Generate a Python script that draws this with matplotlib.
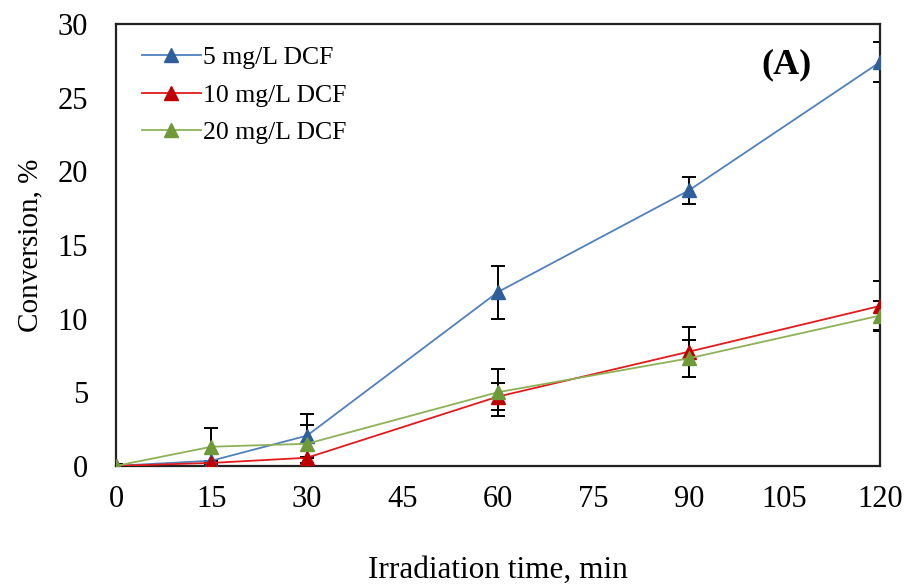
import matplotlib
matplotlib.use("Agg")
import matplotlib.pyplot as plt

plt.rcParams['font.family'] = ['Liberation Serif', 'DejaVu Serif']

time = [0, 15, 30, 60, 90, 120]
labels = ["5 mg/L DCF", "10 mg/L DCF", "20 mg/L DCF"]
conv_5 = [0.0, 0.35, 2.05, 11.8, 18.7, 27.4]
err_5 = [0.15, 0.0, 1.45, 1.8, 0.9, 1.35]
conv_10 = [0.0, 0.2, 0.55, 4.7, 7.75, 10.85]
err_10 = [0.1, 0.0, 0.0, 0.9, 1.7, 1.7]
conv_20 = [0.0, 1.3, 1.5, 5.0, 7.3, 10.2]
err_20 = [0.1, 1.25, 1.3, 1.6, 1.25, 1.0]

line_colors = ["#4F81BD", "#E31A1C", "#8DB255"]
marker_colors = ["#2F5F9A", "#C00000", "#6E9A3A"]

fig = plt.figure(figsize=(9.06, 5.86), dpi=100)
ax = fig.add_axes([0.128, 0.205, 0.843, 0.754])

series = [(conv_5, err_5), (conv_10, err_10), (conv_20, err_20)]
for (y, e), lab, lc, mc in zip(series, labels, line_colors, marker_colors):
    ax.errorbar(time, y, yerr=e, fmt='none', ecolor='black', elinewidth=1.4,
                capsize=5, capthick=1.4, zorder=2)
for (y, e), lab, lc, mc in zip(series, labels, line_colors, marker_colors):
    ax.plot(time, y, color=lc, lw=1.3, marker='^', markersize=10,
            markerfacecolor=mc, markeredgecolor=mc, label=lab, zorder=3)

ax.set_xlim(0, 120)
ax.set_ylim(0, 30)
ax.set_xticks([0, 15, 30, 45, 60, 75, 90, 105, 120])
ax.set_yticks([0, 5, 10, 15, 20, 25, 30])
ax.tick_params(length=0, labelsize=22)
ax.tick_params(axis='x', pad=14)
ax.tick_params(axis='y', pad=20)
for s in ax.spines.values():
    s.set_linewidth(1.6)
    s.set_color('#222222')

ax.set_xlabel("Irradiation time, min", fontsize=22.5, labelpad=30)
ax.set_ylabel("Conversion, %", fontsize=21, labelpad=10)

ax.text(0.878, 0.907, "(A)", transform=ax.transAxes, fontsize=26,
        fontweight='bold', ha='center', va='center')

leg = ax.legend(loc='upper left', bbox_to_anchor=(0.01, 0.99), frameon=False,
                fontsize=18.5, handlelength=2.3, handletextpad=0.1,
                labelspacing=0.55, borderaxespad=0.3)

fig.savefig("out.png", dpi=100)
